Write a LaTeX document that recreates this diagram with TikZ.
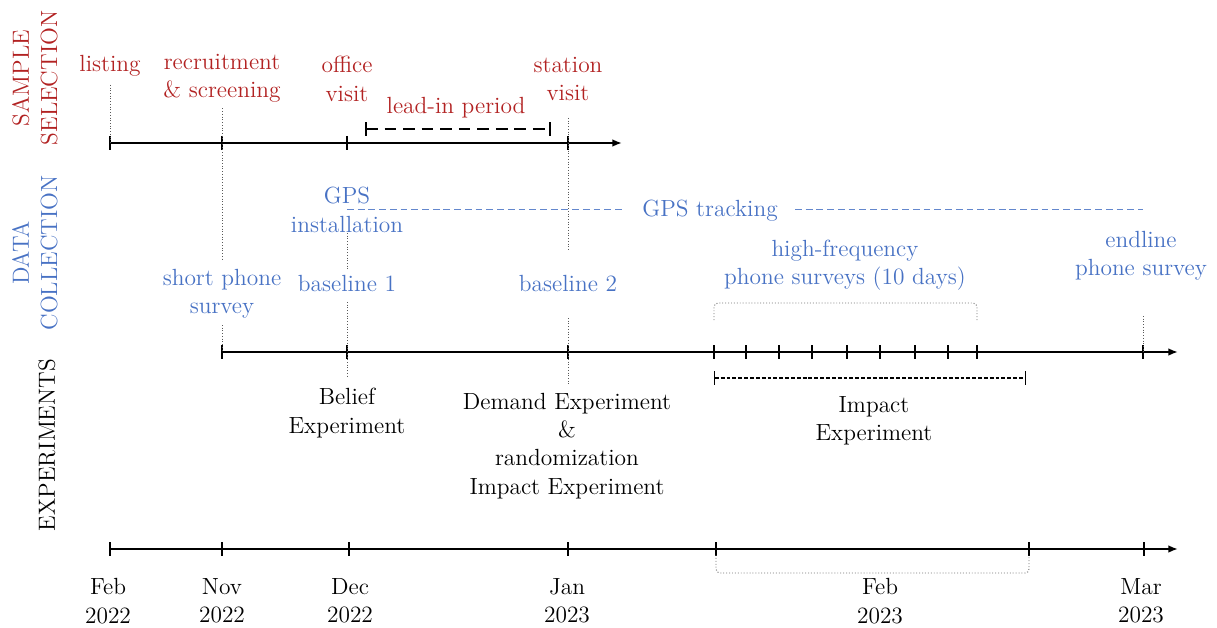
\documentclass[tikz,border=0pt]{standalone}
\usetikzlibrary{arrows.meta,calc}
\definecolor{selred}{RGB}{178,34,34}
\definecolor{colblue}{RGB}{72,114,196}
\begin{document}
\begin{tikzpicture}[x=0.513pt,y=-0.513pt,
  font=\fontsize{12}{14.5}\selectfont,
  lbl/.style={align=center, inner sep=2pt},
  redlbl/.style={lbl, text=selred},
  bluelbl/.style={lbl, text=colblue},
  axisline/.style={line width=1pt, -{Latex[length=5pt,width=4pt]}},
  tickmark/.style={line width=0.9pt},
  guide/.style={black!65, densely dotted, line width=0.4pt},
  bracketline/.style={black!55, densely dotted, line width=0.5pt, rounded corners=2pt},
  leadin/.style={line width=0.8pt, dash pattern=on 6pt off 3.5pt, {Bar[width=7pt]}-{Bar[width=7pt]}},
  impactline/.style={line width=0.6pt, dash pattern=on 2pt off 1pt, {Bar[width=7pt]}-{Bar[width=7pt]}},
  gpsline/.style={colblue!85, line width=0.5pt, dash pattern=on 3.5pt off 2pt},
  section/.style={rotate=90, align=center, inner sep=0pt}
]
\useasboundingbox (0,0) rectangle (1217,628);

% ---------- section titles ----------
\node[section, text=selred] (tSS) at (35,78) {SAMPLE\\SELECTION};
\node[section, text=colblue] (tDC) at (35,253) {DATA\\COLLECTION};
\node[section] (tEX) at (47,445) {EXPERIMENTS};

% ---------- axis coordinates ----------
\foreach \n/\x in {s0/110,s1/222,s2/347,s3/568} \coordinate (\n) at (\x,143);
\coordinate (sE) at (622,143);
\foreach \n/\x in {d0/222,d1/347,d2/568,d3/1143} \coordinate (\n) at (\x,352);
\foreach \n/\x in {h1/714,h2/746,h3/779,h4/812,h5/847,h6/880,h7/915,h8/948,h9/977} \coordinate (\n) at (\x,352);
\coordinate (dE) at (1178,352);
\foreach \n/\x in {m0/110,m1/222,m2/349,m3/568,m4/716,m5/1029,m6/1144} \coordinate (\n) at (\x,549);
\coordinate (mE) at (1178,549);

% ---------- axes ----------
\draw[axisline] (s0) -- (sE);
\draw[axisline] (d0) -- (dE);
\draw[axisline] (m0) -- (mE);
\foreach \n in {s0,s1,s2,s3,d0,d1,d2,d3,h1,h2,h3,h4,h5,h6,h7,h8,h9,m0,m1,m2,m3,m4,m5,m6}
  \draw[tickmark] ($(\n)+(0,-7)$) -- ($(\n)+(0,7)$);

% ---------- sample selection ----------
\node[redlbl] (listing) at (110,66) {listing};
\node[redlbl] (recruit) at (222,78) {recruitment\\\& screening};
\node[redlbl] (office) at (347,79) {office\\visit};
\node[redlbl] (station) at (568,79) {station\\visit};
\node[redlbl] (leadin) at (456,108) {lead-in period};
\coordinate (li0) at (365,129);
\coordinate (li1) at (551,129);
\draw[leadin] (li0) -- (li1);

\coordinate (recruitEnd) at (222,260);
\coordinate (stationEnd) at (568,250);
\draw[guide] ($(listing.south)+(0,4)$) -- (s0);
\draw[guide] ($(recruit.south)+(0,2)$) -- (recruitEnd);
\draw[guide] (568,118) -- (stationEnd);

% ---------- data collection ----------
\node[bluelbl] (gps) at (347,210) {GPS\\installation};
\node[bluelbl] (gpstrack) at (710,211) {GPS tracking};
\coordinate (gpsA) at (347,209);
\coordinate (gpsB) at (1143,209);
\draw[gpsline] (gpsA) -- (622,209);
\draw[gpsline] (795,209) -- (gpsB);
\node[bluelbl] (short) at (222,294) {short phone\\survey};
\node[bluelbl] (base1) at (347,283) {baseline 1};
\node[bluelbl] (base2) at (568,283) {baseline 2};
\node[bluelbl] (hf) at (845,265) {high-frequency\\phone surveys (10 days)};
\node[bluelbl] (endline) at (1141,256) {endline\\phone survey};

\coordinate (b1End) at (347,378);
\coordinate (b2End) at (568,385);
\draw[guide] (347,233) -- (347,270);
\draw[guide] (347,302) -- (b1End);
\draw[guide] (568,318) -- (b2End);
\draw[guide] (222,325) -- (d0);
\draw[guide] (1143,316) -- (d3);
\draw[bracketline] ($(h1)+(0,-32)$) |- ($(h9)+(0,-49)$) -- ($(h9)+(0,-32)$);

% ---------- experiments ----------
\node[lbl] (belief) at (347,413) {Belief\\Experiment};
\node[lbl] (demand) at (567,446) {Demand Experiment\\\&\\randomization\\Impact Experiment};
\coordinate (imp0) at (714,378);
\coordinate (imp1) at (1026,378);
\draw[impactline] (imp0) -- (imp1);
\node[lbl] (impact) at (874,421) {Impact\\Experiment};

% ---------- months ----------
\node[lbl] (feb22) at (108,601) {Feb\\2022};
\node[lbl] (nov22) at (222,601) {Nov\\2022};
\node[lbl] (dec22) at (350,601) {Dec\\2022};
\node[lbl] (jan23) at (567,601) {Jan\\2023};
\node[lbl] (feb23) at (880,601) {Feb\\2023};
\node[lbl] (mar23) at (1141,601) {Mar\\2023};
\draw[bracketline] ($(m4)+(0,6)$) |- ($(m5)+(0,24)$) -- ($(m5)+(0,6)$);
\end{tikzpicture}
\end{document}
